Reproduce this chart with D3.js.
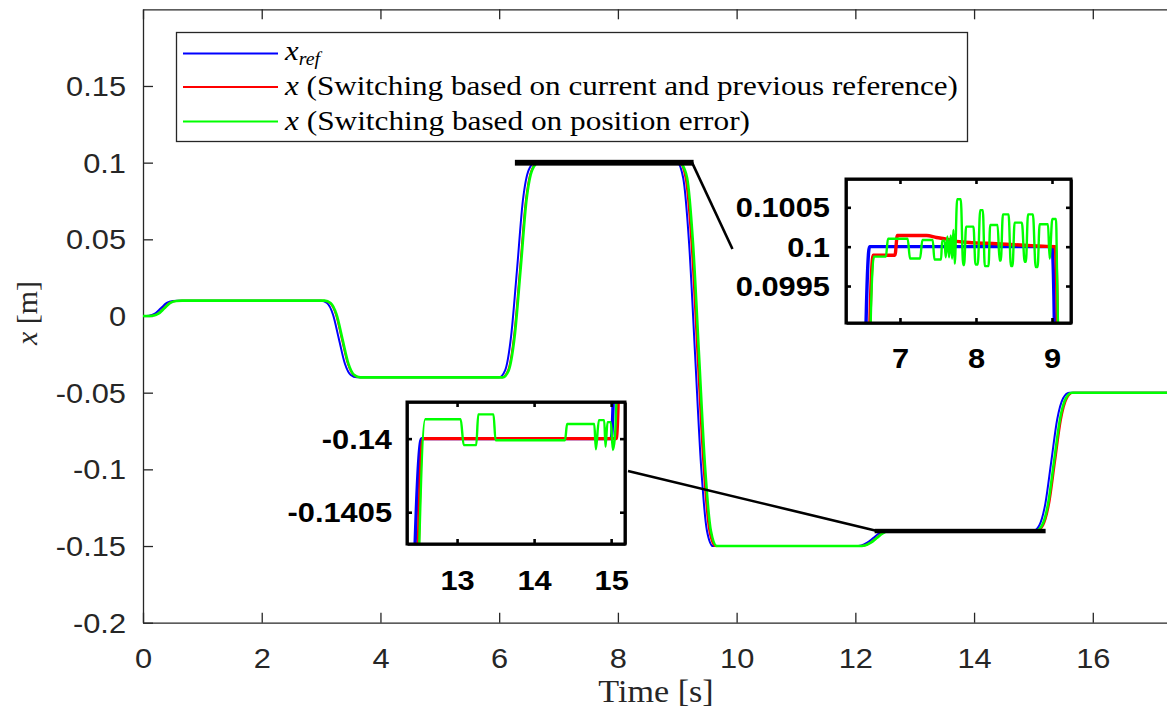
<!DOCTYPE html>
<html>
<head>
<meta charset="utf-8">
<script src="https://cdn.jsdelivr.net/npm/d3@7"></script>
<style>
  body { margin: 0; background: #fff; }
  svg { display: block; }
</style>
</head>
<body>
<svg id="chart" width="1167" height="717"></svg>
<script>
// ---- position reference and the two measured responses (time in s, position in m) ----
const refTime = [0, 0.1, 0.2, 0.3, 0.4, 0.5, 0.6,
  3.0, 3.1, 3.2, 3.3, 3.4, 3.5, 3.6,
  6.0, 6.1, 6.2, 6.3, 6.4, 6.5, 6.6,
  9.0, 9.1, 9.2, 9.3, 9.4, 9.5, 9.6,
  12.0, 12.1, 12.2, 12.3, 12.4, 12.54,
  15.0, 15.1, 15.2, 15.3, 15.4, 15.5, 15.6, 17.3];
const refPos = [0, 0.0002, 0.0015, 0.005, 0.0085, 0.0098, 0.01,
  0.01, 0.0085, 0.001, -0.015, -0.031, -0.0385, -0.04,
  -0.04, -0.0355, -0.0135, 0.03, 0.0755, 0.0955, 0.1,
  0.1, 0.09, 0.047, -0.025, -0.097, -0.14, -0.15,
  -0.15, -0.1496, -0.1478, -0.1448, -0.1418, -0.14,
  -0.14, -0.1364, -0.1225, -0.095, -0.0675, -0.0536, -0.05, -0.05];

// switching based on current and previous reference
const curTime = [0, 0.05, 0.15, 0.25, 0.35, 0.45, 0.55, 0.65,
  3.05, 3.15, 3.25, 3.35, 3.45, 3.55, 3.65,
  6.05, 6.15, 6.25, 6.35, 6.45, 6.55, 6.648,
  6.934, 6.965, 7.35, 7.48, 7.615, 7.747, 7.967, 8.27, 8.58, 8.93,
  9.04, 9.14, 9.24, 9.34, 9.44, 9.54, 9.64,
  12.05, 12.15, 12.25, 12.35, 12.45, 12.56,
  15.065, 15.165, 15.265, 15.365, 15.465, 15.565, 15.665, 17.3];
const curPos = [0, 0, 0.0002, 0.0015, 0.005, 0.0085, 0.0098, 0.01,
  0.01, 0.0085, 0.001, -0.015, -0.031, -0.0385, -0.04,
  -0.04, -0.0355, -0.0135, 0.03, 0.0755, 0.0955, 0.099891,
  0.099891, 0.100142, 0.100142, 0.100117, 0.100096, 0.100067, 0.10005, 0.100038, 0.100021, 0.100004,
  0.1, 0.09, 0.047, -0.025, -0.097, -0.14, -0.15,
  -0.15, -0.1496, -0.1478, -0.1448, -0.1418, -0.14,
  -0.14, -0.1364, -0.1225, -0.095, -0.0675, -0.0536, -0.05, -0.05];

// switching based on position error
const errTime = [0, 0.06, 0.16, 0.26, 0.36, 0.46, 0.56, 0.66,
  3.06, 3.16, 3.26, 3.36, 3.46, 3.56, 3.66,
  6.06, 6.16, 6.26, 6.36, 6.46, 6.56,
  6.657, 6.815, 6.842, 7.101, 7.132, 7.264, 7.295, 7.431, 7.453, 7.541,
  7.554, 7.585, 7.602, 7.624, 7.646, 7.668, 7.686, 7.703, 7.721, 7.752,
  7.800, 7.831, 7.844, 7.870, 7.967, 7.993, 8.024, 8.055, 8.090, 8.116,
  8.165, 8.187, 8.284, 8.310, 8.327, 8.354, 8.429, 8.459, 8.481, 8.508,
  8.604, 8.640, 8.657, 8.684, 8.749, 8.785, 8.811, 8.837, 8.947, 8.969,
  9.004, 9.053,
  9.066, 9.166, 9.266, 9.366, 9.466, 9.566, 9.666,
  12.06, 12.16, 12.26, 12.36, 12.46,
  12.587, 13.047, 13.086, 13.249, 13.275, 13.473, 13.499, 14.402, 14.428,
  14.781, 14.802, 14.841, 14.910, 14.927, 14.953, 14.996, 15.022, 15.047,
  15.147, 15.247, 15.347, 15.447, 15.547, 15.647, 17.3];
const errPos = [0, 0, 0.0002, 0.0015, 0.005, 0.0085, 0.0098, 0.01,
  0.01, 0.0085, 0.001, -0.015, -0.031, -0.0385, -0.04,
  -0.04, -0.0355, -0.0135, 0.03, 0.0755, 0.0955,
  0.099874, 0.099874, 0.1001, 0.1001, 0.099849, 0.099849, 0.100084, 0.100084, 0.099837, 0.099837,
  0.100075, 0.100075, 0.099866, 0.10013, 0.099866, 0.100142, 0.099849, 0.100213, 0.099782, 0.100603,
  0.100603, 0.099766, 0.099766, 0.100255, 0.100255, 0.099774, 0.099774, 0.100464, 0.100464, 0.099753,
  0.099753, 0.100276, 0.100276, 0.099824, 0.099824, 0.10041, 0.10041, 0.099753, 0.099753, 0.100305,
  0.100305, 0.099808, 0.099808, 0.10041, 0.10041, 0.099741, 0.099741, 0.100285, 0.100285, 0.099849,
  0.100351, 0.100351,
  0.0997, 0.09, 0.047, -0.025, -0.097, -0.14, -0.15,
  -0.15, -0.1496, -0.1478, -0.1448, -0.1418,
  -0.139868, -0.139868, -0.140044, -0.140044, -0.139835, -0.139835, -0.140011, -0.140011, -0.139901,
  -0.139901, -0.140073, -0.139874, -0.139874, -0.140055, -0.139888, -0.139888, -0.140077, -0.14,
  -0.1364, -0.1225, -0.095, -0.0675, -0.0536, -0.05, -0.05];

const seriesColors = ["#0000ff", "#ff0000", "#00ff00"];

// axis ticks
const timeTicks = [0, 2, 4, 6, 8, 10, 12, 14, 16];
const posTicks = [-0.2, -0.15, -0.1, -0.05, 0, 0.05, 0.1, 0.15];

// magnified windows: time range, position range and their ticks
const zoomATime = [6.29, 9.25];
const zoomAPos = [0.09903, 0.10086];
const zoomATimeTicks = [7, 8, 9];
const zoomAPosTicks = [0.0995, 0.1, 0.1005];
const zoomBTime = [12.35, 15.18];
const zoomBPos = [-0.140716, -0.139751];
const zoomBTimeTicks = [13, 14, 15];
const zoomBPosTicks = [-0.1405, -0.14];

// guide lines from each magnified window marker towards its panel (data coordinates)
const guideA = [[9.25, 0.1], [9.93, 0.0437]];
const guideB = [[8.17, -0.1011], [12.35, -0.14]];

// ---------------------------------------------------------------
const zip = (t, v) => t.map((d, i) => [d, v[i]]);
const series = [zip(refTime, refPos), zip(curTime, curPos), zip(errTime, errPos)];

const svg = d3.select("#chart");
const STRETCH = 1.1;
function widen(sel, k) {
  sel.each(function () {
    const w = this.getComputedTextLength();
    this.setAttribute("textLength", w * k);
    this.setAttribute("lengthAdjust", "spacingAndGlyphs");
  });
}

const plot = { left: 143, right: 1167, top: 9.3, bottom: 622.7 };
const x = d3.scaleLinear().domain([0, 17.25]).range([plot.left, plot.right]);
const y = d3.scaleLinear().domain([-0.2, 0.2]).range([plot.bottom, plot.top]);

const defs = svg.append("defs");
defs.append("clipPath").attr("id", "clipMain").append("rect")
  .attr("x", plot.left).attr("y", plot.top)
  .attr("width", plot.right - plot.left).attr("height", plot.bottom - plot.top);

const axisColor = "#262626";
const fmt = d => String(d);

function styleAxis(g, fontSize, weight, color, lineW) {
  g.attr("font-family", "'Liberation Sans', Arial, Helvetica, sans-serif")
   .attr("font-size", fontSize).attr("font-weight", weight);
  g.selectAll("path.domain").attr("stroke", color).attr("stroke-width", lineW);
  g.selectAll(".tick line").attr("stroke", color).attr("stroke-width", lineW);
  g.selectAll(".tick text").attr("fill", color);
}

// main axes
const gx = svg.append("g").attr("transform", `translate(0,${plot.bottom})`)
  .call(d3.axisBottom(x).tickValues(timeTicks).tickFormat(fmt).tickSizeInner(-10).tickSizeOuter(0).tickPadding(25));
styleAxis(gx, 28, "normal", axisColor, 1.3);
const gxTop = svg.append("g").attr("transform", `translate(0,${plot.top})`)
  .call(d3.axisTop(x).tickValues(timeTicks).tickFormat("").tickSizeInner(-10).tickSizeOuter(0));
styleAxis(gxTop, 28, "normal", axisColor, 1.3);
const gy = svg.append("g").attr("transform", `translate(${plot.left},0)`)
  .call(d3.axisLeft(y).tickValues(posTicks).tickFormat(fmt).tickSizeInner(-10).tickSizeOuter(0).tickPadding(17));
styleAxis(gy, 28, "normal", axisColor, 1.3);
gy.selectAll(".tick text").attr("dy", "0.34em");
widen(gx.selectAll(".tick text"), STRETCH);
widen(gy.selectAll(".tick text"), STRETCH);

// axis titles
const xTitle = svg.append("text")
  .attr("x", 656).attr("y", 702).attr("text-anchor", "middle")
  .attr("font-family", "'Liberation Serif', 'Times New Roman', serif")
  .attr("font-size", 31).attr("fill", axisColor).text("Time [s]");
widen(xTitle, STRETCH);

const yTitle = svg.append("text")
  .attr("transform", "translate(37,313) rotate(-90)")
  .attr("text-anchor", "middle")
  .attr("font-family", "'Liberation Serif', 'Times New Roman', serif")
  .attr("font-size", 30).attr("fill", axisColor);
yTitle.append("tspan").attr("font-style", "italic").text("x");
yTitle.append("tspan").text(" [m]");

// curves
const lineMain = d3.line().curve(d3.curveMonotoneX).x(d => x(d[0])).y(d => y(d[1]));
const mainWidths = [2, 2, 2.6];
const gLines = svg.append("g").attr("clip-path", "url(#clipMain)");
series.forEach((s, i) => {
  gLines.append("path").datum(s).attr("d", lineMain)
    .attr("fill", "none").attr("stroke", seriesColors[i])
    .attr("stroke-width", mainWidths[i]).attr("stroke-linejoin", "round");
});

// markers of the magnified windows
[[zoomATime, zoomAPos], [zoomBTime, zoomBPos]].forEach(([tr, pr]) => {
  svg.append("rect")
    .attr("x", x(tr[0])).attr("y", y(pr[1]))
    .attr("width", x(tr[1]) - x(tr[0])).attr("height", y(pr[0]) - y(pr[1]))
    .attr("fill", "#000").attr("stroke", "#000").attr("stroke-width", 3);
});
[guideA, guideB].forEach(g => {
  svg.append("line")
    .attr("x1", x(g[0][0])).attr("y1", y(g[0][1]))
    .attr("x2", x(g[1][0])).attr("y2", y(g[1][1]))
    .attr("stroke", "#000").attr("stroke-width", 2.6);
});

// legend
const legend = svg.append("g");
legend.append("rect").attr("x", 176.5).attr("y", 32.5).attr("width", 791).attr("height", 109)
  .attr("fill", "#fff").attr("stroke", axisColor).attr("stroke-width", 1.3);
const legendRowsY = [53.5, 87, 121.5];
const legendBase = [6.5, 8, 8];
const legendWidths = [null, 673, 465];
const legendTexts = [
  [["x", true], ["ref", true, "sub"]],
  [["x", true], [" (Switching based on current and previous reference)", false]],
  [["x", true], [" (Switching based on position error)", false]]
];
legendTexts.forEach((parts, i) => {
  const yy = legendRowsY[i];
  legend.append("line").attr("x1", 183).attr("x2", 278).attr("y1", yy).attr("y2", yy)
    .attr("stroke", seriesColors[i]).attr("stroke-width", 2.2);
  const t = legend.append("text").attr("x", 285).attr("y", yy + legendBase[i])
    .attr("font-family", "'Liberation Serif', 'Times New Roman', serif")
    .attr("font-size", 28).attr("fill", "#000");
  parts.forEach(p => {
    const ts = t.append("tspan").text(p[0]);
    if (p[1]) ts.attr("font-style", "italic");
    if (p[2] === "sub") ts.attr("font-size", 18).attr("dy", 5);
  });
  if (legendWidths[i]) {
    t.attr("textLength", legendWidths[i]).attr("lengthAdjust", "spacingAndGlyphs");
  } else {
    widen(t, STRETCH);
  }
});

// magnified panels
const lineWidthsZoom = [3.4, 3.4, 2.4];
function drawZoom(id, box, tDom, pDom, tTicks, pTicks, xPad, yPad) {
  const zx = d3.scaleLinear().domain(tDom).range([box.left, box.right]);
  const zy = d3.scaleLinear().domain(pDom).range([box.bottom, box.top]);
  defs.append("clipPath").attr("id", id).append("rect")
    .attr("x", box.left).attr("y", box.top)
    .attr("width", box.right - box.left).attr("height", box.bottom - box.top);
  const g = svg.append("g");
  g.append("rect").attr("x", box.left).attr("y", box.top)
    .attr("width", box.right - box.left).attr("height", box.bottom - box.top)
    .attr("fill", "#fff");
  const gl = g.append("g").attr("clip-path", `url(#${id})`);
  const ln = d3.line().curve(d3.curveMonotoneX).x(d => zx(d[0])).y(d => zy(d[1]));
  series.forEach((s, i) => {
    gl.append("path").datum(s).attr("d", ln)
      .attr("fill", "none").attr("stroke", seriesColors[i])
      .attr("stroke-width", lineWidthsZoom[i]).attr("stroke-linejoin", "round");
  });
  const ax = [
    g.append("g").attr("transform", `translate(0,${box.bottom})`)
      .call(d3.axisBottom(zx).tickValues(tTicks).tickFormat(fmt).tickSizeInner(-5).tickSizeOuter(0).tickPadding(xPad)),
    g.append("g").attr("transform", `translate(0,${box.top})`)
      .call(d3.axisTop(zx).tickValues(tTicks).tickFormat("").tickSizeInner(-5).tickSizeOuter(0)),
    g.append("g").attr("transform", `translate(${box.left},0)`)
      .call(d3.axisLeft(zy).tickValues(pTicks).tickFormat(fmt).tickSizeInner(-5).tickSizeOuter(0).tickPadding(yPad)),
    g.append("g").attr("transform", `translate(${box.right},0)`)
      .call(d3.axisRight(zy).tickValues(pTicks).tickFormat("").tickSizeInner(-5).tickSizeOuter(0))
  ];
  ax.forEach(a => styleAxis(a, 28, "bold", "#000", 2.6));
  ax[2].selectAll(".tick text").attr("dy", "0.34em");
  widen(ax[0].selectAll(".tick text"), STRETCH);
  widen(ax[2].selectAll(".tick text"), STRETCH);
  g.append("rect").attr("x", box.left).attr("y", box.top)
    .attr("width", box.right - box.left).attr("height", box.bottom - box.top)
    .attr("fill", "none").attr("stroke", "#000").attr("stroke-width", 3);
}

drawZoom("clipZoomA", { left: 846, right: 1071, top: 179, bottom: 323 },
  zoomATime, zoomAPos, zoomATimeTicks, zoomAPosTicks, 25, 16);
drawZoom("clipZoomB", { left: 407, right: 625, top: 402, bottom: 544 },
  zoomBTime, zoomBPos, zoomBTimeTicks, zoomBPosTicks, 26, 15);
</script>
</body>
</html>
